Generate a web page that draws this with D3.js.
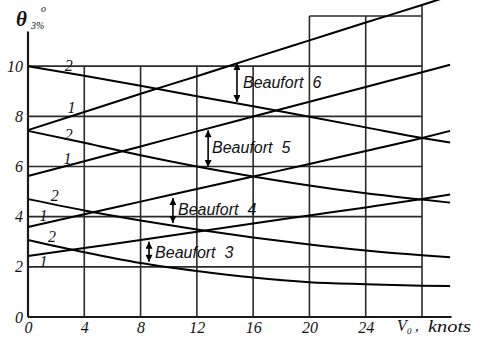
<!DOCTYPE html>
<html>
<head>
<meta charset="utf-8">
<script src="https://cdn.jsdelivr.net/npm/d3@7"></script>
<style>
  body { margin: 0; background: #fff; }
  svg { display: block; }
  .tick text { font-family: "Liberation Serif", "Times New Roman", serif; font-style: italic; font-size: 16px; fill: #111; }
  .grid line { stroke: #2a2a2a; stroke-width: 1.6; }
  .curve { fill: none; stroke: #000; stroke-width: 2; }
  .beaufort { font-family: "Liberation Sans", Arial, sans-serif; font-style: italic; font-size: 16px; fill: #111; }
  .num { font-family: "Liberation Serif", "Times New Roman", serif; font-style: italic; font-size: 16px; fill: #111; }
</style>
</head>
<body>
<div id="chart"></div>
<script>
// wind speed (knots) where the curves were read
var knots = [0, 4, 8, 12, 16, 20, 24, 28, 30];

// theta 3% curves, 1 = rising, 2 = falling, per Beaufort force
var beaufort6_1 = [7.45, 8.17, 8.90, 9.60, 10.32, 11.03, 11.74, 12.44, 12.80];
var beaufort6_2 = [10.0, 9.62, 9.22, 8.80, 8.40, 7.98, 7.56, 7.14, 6.96];
var beaufort5_1 = [5.62, 6.21, 6.80, 7.40, 7.99, 8.58, 9.17, 9.76, 10.06];
var beaufort5_2 = [7.42, 6.95, 6.45, 6.00, 5.60, 5.24, 4.93, 4.68, 4.56];
var beaufort4_1 = [3.59, 4.10, 4.60, 5.10, 5.60, 6.10, 6.62, 7.14, 7.42];
var beaufort4_2 = [4.70, 4.25, 3.85, 3.49, 3.17, 2.89, 2.65, 2.46, 2.38];
var beaufort3_1 = [2.43, 2.75, 3.07, 3.40, 3.73, 4.05, 4.37, 4.70, 4.88];
var beaufort3_2 = [3.07, 2.58, 2.15, 1.83, 1.57, 1.39, 1.31, 1.25, 1.23];

// tick labels
var xTicks = [0, 4, 8, 12, 16, 20, 24];
var yTicks = [0, 2, 4, 6, 8, 10];

// curve number labels (knots, theta)
var numText = ["2", "1", "2", "1", "2", "1", "2", "1"];
var numX = [2.9, 3.1, 2.9, 2.8, 1.9, 1.1, 1.7, 1.1];
var numY = [10.04, 8.37, 7.29, 6.33, 4.86, 4.06, 3.23, 2.23];

// Beaufort arrows and labels
var bfName = ["6", "5", "4", "3"];
var bfArrowX = [14.85, 12.8, 10.3, 8.6];
var bfArrowTop = [10.13, 7.45, 4.74, 3.0];
var bfArrowBot = [8.57, 5.98, 3.75, 2.2];
var bfLabelX = [15.28, 13.08, 10.66, 9.03];
var bfLabelY = [9.13, 6.55, 4.05, 2.36];

var series = [beaufort6_1, beaufort6_2, beaufort5_1, beaufort5_2,
              beaufort4_1, beaufort4_2, beaufort3_1, beaufort3_2].map(function(v) {
    return v.map(function(d, i) { return [knots[i], d]; });
});

var width = 480, height = 348;

var x = d3.scaleLinear().domain([0, 28]).range([28, 422]);
var y = d3.scaleLinear().domain([0, 12]).range([317, 16]);

var svg = d3.select("#chart").append("svg")
    .attr("width", width)
    .attr("height", height);

var defs = svg.append("defs");
defs.append("marker")
    .attr("id", "head")
    .attr("viewBox", "0 0 10 10")
    .attr("refX", 10)
    .attr("refY", 5)
    .attr("markerUnits", "userSpaceOnUse")
    .attr("markerWidth", 9)
    .attr("markerHeight", 7)
    .attr("orient", "auto-start-reverse")
  .append("path")
    .attr("d", "M0,0L10,5L0,10z")
    .attr("fill", "#000");

// grid
var grid = svg.append("g").attr("class", "grid");

grid.selectAll(".h")
    .data([2, 4, 6, 8, 10])
  .enter().append("line")
    .attr("x1", x(0)).attr("x2", x(28))
    .attr("y1", function(d) { return y(d); })
    .attr("y2", function(d) { return y(d); });

grid.append("line")
    .attr("x1", x(20)).attr("x2", x(28))
    .attr("y1", y(12)).attr("y2", y(12));

grid.selectAll(".v")
    .data([4, 8, 12, 16, 20, 24, 28])
  .enter().append("line")
    .attr("x1", function(d) { return x(d); })
    .attr("x2", function(d) { return x(d); })
    .attr("y1", y(0))
    .attr("y2", function(d) { return d < 20 ? y(10) : (d == 28 ? y(12.4) : y(12)); });

// axis lines
svg.append("line")
    .attr("x1", x(0)).attr("x2", x(0))
    .attr("y1", y(0)).attr("y2", y(11.38))
    .attr("stroke", "#1a1a1a").attr("stroke-width", 2.2);

svg.append("line")
    .attr("x1", x(0)).attr("x2", x(30.1))
    .attr("y1", y(0)).attr("y2", y(0))
    .attr("stroke", "#1a1a1a").attr("stroke-width", 2.2);

// tick labels
svg.append("g")
    .attr("transform", "translate(0," + y(0) + ")")
    .call(d3.axisBottom(x).tickValues(xTicks).tickSize(0).tickPadding(5))
    .call(function(g) { g.select(".domain").remove(); });

svg.append("g")
    .attr("transform", "translate(" + x(0) + ",0)")
    .call(d3.axisLeft(y).tickValues(yTicks).tickSize(0).tickPadding(5))
    .call(function(g) { g.select(".domain").remove(); });

// curves
var line = d3.line()
    .x(function(d) { return x(d[0]); })
    .y(function(d) { return y(d[1]); })
    .curve(d3.curveMonotoneX);

svg.selectAll(".curve")
    .data(series)
  .enter().append("path")
    .attr("class", "curve")
    .attr("d", line);

// curve numbers
svg.selectAll(".num")
    .data(numText)
  .enter().append("text")
    .attr("class", "num")
    .attr("x", function(d, i) { return x(numX[i]); })
    .attr("y", function(d, i) { return y(numY[i]); })
    .attr("dy", "0.35em")
    .attr("text-anchor", "middle")
    .text(function(d) { return d; });

// Beaufort arrows
svg.selectAll(".arrow")
    .data(bfName)
  .enter().append("line")
    .attr("class", "arrow")
    .attr("x1", function(d, i) { return x(bfArrowX[i]); })
    .attr("x2", function(d, i) { return x(bfArrowX[i]); })
    .attr("y1", function(d, i) { return y(bfArrowTop[i]); })
    .attr("y2", function(d, i) { return y(bfArrowBot[i]); })
    .attr("stroke", "#000")
    .attr("stroke-width", 1.6)
    .attr("marker-start", "url(#head)")
    .attr("marker-end", "url(#head)");

var bf = svg.selectAll(".beaufort")
    .data(bfName)
  .enter().append("text")
    .attr("class", "beaufort")
    .attr("x", function(d, i) { return x(bfLabelX[i]); })
    .attr("y", function(d, i) { return y(bfLabelY[i]); });
bf.append("tspan").text("Beaufort");
bf.append("tspan").attr("dx", 9).text(function(d) { return d; });

// axis titles
var serif = "'Liberation Serif', 'Times New Roman', serif";
var yt = svg.append("g").style("font-family", serif).style("font-style", "italic").attr("fill", "#111");
yt.append("text").attr("x", 16).attr("y", 26).style("font-size", "21px").style("font-weight", "bold").text("\u03b8");
yt.append("text").attr("x", 31).attr("y", 29).style("font-size", "10px").text("3%");
yt.append("text").attr("x", 41).attr("y", 12).style("font-size", "10px").text("o");

var xt = svg.append("g").style("font-family", serif).style("font-style", "italic").attr("fill", "#111");
xt.append("text").attr("x", 397).attr("y", 331).style("font-size", "16px").text("V");
xt.append("text").attr("x", 407).attr("y", 334).style("font-size", "9px").text("0");
xt.append("text").attr("x", 415).attr("y", 331).style("font-size", "15px").text(",");
xt.append("text").attr("x", 428).attr("y", 332).style("font-size", "16px")
    .attr("textLength", 43).attr("lengthAdjust", "spacingAndGlyphs").text("knots");
</script>
</body>
</html>
